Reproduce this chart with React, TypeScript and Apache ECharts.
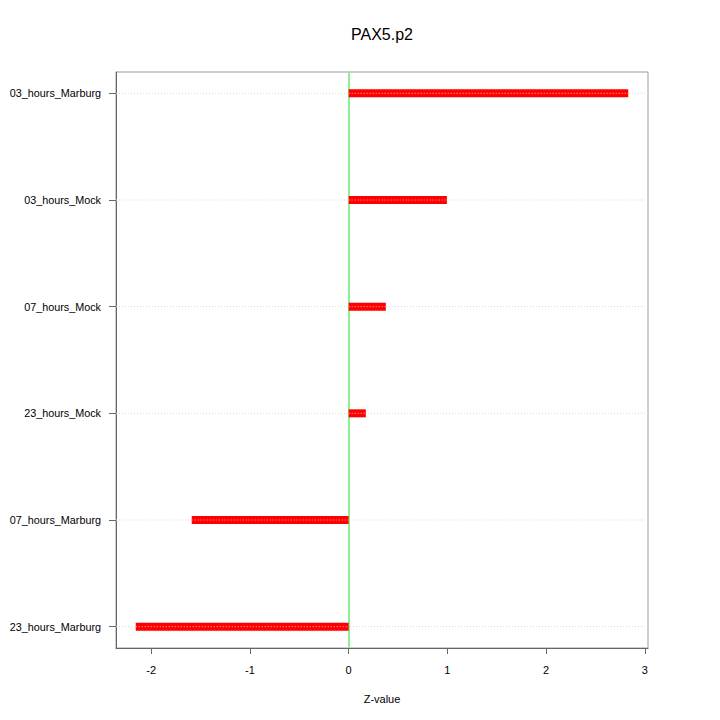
import React, { useEffect, useRef } from "react";
import * as echarts from "echarts";

// Bottom-to-top order (position 1..6 on the y scale)
const categories = [
  "23_hours_Marburg",
  "07_hours_Marburg",
  "23_hours_Mock",
  "07_hours_Mock",
  "03_hours_Mock",
  "03_hours_Marburg",
];
const zValues = [-2.156, -1.589, 0.174, 0.377, 0.995, 2.832];
const xTicks = [-2, -1, 0, 1, 2, 3];
const yPositions = [1, 2, 3, 4, 5, 6];
const titleText = "PAX5.p2";
const xName = "Z-value";

const FONT = "'Liberation Sans', Arial, Helvetica, sans-serif";

export default function App() {
  const ref = useRef<HTMLDivElement>(null);
  useEffect(() => {
    if (!ref.current) return;
    const chart = echarts.init(ref.current, null, { renderer: "svg" });
    const data = zValues.map((v, i) => [v, yPositions[i]]);
    chart.setOption({
      animation: false,
      backgroundColor: "#ffffff",
      textStyle: { fontFamily: FONT },
      grid: {
        left: 116,
        right: 72,
        top: 72,
        bottom: 72,
        show: true,
        borderColor: "#9a9a9a",
        borderWidth: 1,
        backgroundColor: "transparent",
      },
      graphic: [
        {
          type: "text",
          x: 382,
          y: 34,
          style: {
            text: titleText,
            fontFamily: FONT,
            fontSize: 16,
            fill: "#000",
            textAlign: "center",
            textVerticalAlign: "middle",
          },
        },
        {
          type: "text",
          x: 382,
          y: 699,
          style: {
            text: xName,
            fontFamily: FONT,
            fontSize: 11,
            fill: "#000",
            textAlign: "center",
            textVerticalAlign: "middle",
          },
        },
      ],
      xAxis: {
        type: "value",
        min: -2.356,
        max: 3.032,
        axisLine: { show: true, onZero: false, lineStyle: { color: "#666", width: 1 } },
        axisTick: {
          show: true,
          length: 6,
          customValues: xTicks,
          lineStyle: { color: "#666" },
        },
        axisLabel: {
          customValues: xTicks,
          margin: 16,
          color: "#000",
          fontSize: 11,
          fontFamily: FONT,
        },
        splitLine: { show: false },
      },
      yAxis: {
        type: "value",
        min: 0.8,
        max: 6.2,
        axisLine: { show: true, onZero: false, lineStyle: { color: "#666", width: 1 } },
        axisTick: {
          show: true,
          length: 7,
          customValues: yPositions,
          lineStyle: { color: "#666" },
        },
        axisLabel: {
          customValues: yPositions,
          margin: 15,
          color: "#000",
          fontSize: 10.8,
          fontFamily: FONT,
          formatter: (v: number) => categories[Math.round(v) - 1] ?? "",
        },
        splitLine: { show: false },
      },
      series: [
        {
          type: "custom",
          data,
          clip: false,
          renderItem: (params: any, api: any) => {
            const v = api.value(0);
            const y = api.value(1);
            const p0 = api.coord([0, y]);
            const p1 = api.coord([v, y]);
            const cs = params.coordSys;
            const x0 = Math.min(p0[0], p1[0]);
            const w = Math.abs(p1[0] - p0[0]);
            return {
              type: "group",
              children: [
                {
                  type: "line",
                  shape: { x1: cs.x, y1: p0[1], x2: cs.x + cs.width, y2: p0[1] },
                  style: { stroke: "#d6d6d6", lineWidth: 1, lineDash: [1, 2] },
                },
                {
                  type: "rect",
                  shape: { x: x0, y: p0[1] - 4, width: w, height: 8 },
                  style: { fill: "#ff0000" },
                },
                {
                  type: "line",
                  shape: { x1: x0, y1: p0[1], x2: x0 + w, y2: p0[1] },
                  style: { stroke: "#ffb8b8", lineWidth: 1, lineDash: [1, 2] },
                },
              ],
            };
          },
          markLine: {
            silent: true,
            symbol: "none",
            label: { show: false },
            lineStyle: { color: "#90ee90", width: 2, type: "solid" },
            data: [{ xAxis: 0 }],
            z: 1,
          },
        },
      ],
    });
    return () => chart.dispose();
  }, []);
  return (
    <div
      ref={ref}
      style={{ position: "fixed", left: 0, top: 0, width: 720, height: 720 }}
    />
  );
}
